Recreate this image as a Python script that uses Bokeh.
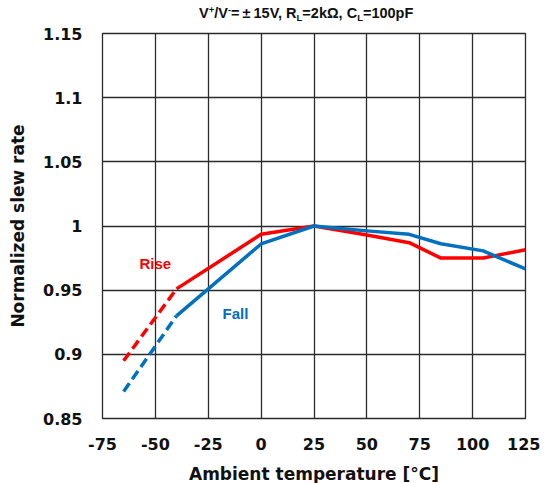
from bokeh.plotting import figure
from bokeh.models import Range1d, FixedTicker, CustomJSTickFormatter, Label, Div
from bokeh.layouts import column
from bokeh.embed import file_html
from bokeh.resources import INLINE

# ---- data ----
temp_dash = [-65, -40]
rise_dash = [0.895, 0.951]
fall_dash = [0.871, 0.930]

temp = [-40, 0, 25, 50, 70, 85, 105, 125]
rise = [0.951, 0.9935, 1.0, 0.993, 0.987, 0.975, 0.975, 0.9815]
fall = [0.930, 0.986, 1.0, 0.9962, 0.9935, 0.9862, 0.9806, 0.9665]

x_ticks = [-75, -50, -25, 0, 25, 50, 75, 100, 125]
y_ticks = [0.85, 0.9, 0.95, 1.0, 1.05, 1.1, 1.15]

RED = "#FF0000"
BLUE = "#0070C0"
GRID = "#2b2b2b"

X0, X1 = -75, 125
Y0, Y1 = 0.85, 1.15
FW, FH = 423, 385
TITLE_H = 24
BL, BT = 102, 9
FL, FT = BL, TITLE_H + BT  # page position of the frame

title = Div(
    text=('<div style="position:absolute; left:199px; top:6px; white-space:nowrap; '
          'font-family:\'Liberation Sans\', Arial, sans-serif; font-weight:bold; '
          'font-size:14.5px; line-height:14px; color:#111;">'
          'V<span style="font-size:9.5px; position:relative; top:-5px;">+</span>'
          '/V<span style="font-size:9.5px; position:relative; top:-5px;">-</span>'
          '=<span style="margin:0 3px;">±</span>15V, '
          'R<span style="font-size:9.5px; position:relative; top:3px;">L</span>=2kΩ, '
          'C<span style="font-size:9.5px; position:relative; top:3px;">L</span>=100pF'
          '</div>'),
    width=540, height=TITLE_H, margin=(0, 0, 0, 0))

p = figure(width=BL + FW + 15, height=BT + FH + 62,
           frame_width=FW, frame_height=FH,
           min_border_left=BL, min_border_top=BT, min_border_right=15, min_border_bottom=62,
           x_range=Range1d(X0, X1), y_range=Range1d(Y0, Y1),
           output_backend="svg", toolbar_location=None, tools="", margin=(0, 0, 0, 0))

p.background_fill_color = "white"
p.border_fill_color = "white"
p.outline_line_color = GRID
p.outline_line_width = 1.3

for ax in (p.xaxis, p.yaxis):
    ax.axis_line_color = None
    ax.major_tick_line_color = None
    ax.minor_tick_line_color = None
    ax.major_tick_in = 0
    ax.major_tick_out = 0
    ax.minor_tick_out = 0
    ax.major_label_text_font = "DejaVu Sans"
    ax.major_label_text_font_style = "bold"
    ax.major_label_text_font_size = "16px"
    ax.major_label_text_color = "#111111"
    ax.axis_label_text_font = "DejaVu Sans"
    ax.axis_label_text_font_style = "bold"
    ax.axis_label_text_font_size = "17px"
    ax.axis_label_text_color = "#111111"

p.xaxis.ticker = FixedTicker(ticks=x_ticks)
p.yaxis.ticker = FixedTicker(ticks=y_ticks)
p.xaxis.formatter = CustomJSTickFormatter(code="return String(tick);")
p.yaxis.formatter = CustomJSTickFormatter(code="return String(Math.round(tick*100)/100);")
p.xaxis.major_label_standoff = 19
p.yaxis.major_label_standoff = 20
p.xaxis.axis_label = "Ambient temperature [°C]"
p.yaxis.axis_label = "Normalized slew rate"
p.xaxis.axis_label_standoff = 11
p.yaxis.axis_label_standoff = 12

p.xgrid.ticker = FixedTicker(ticks=x_ticks)
p.ygrid.ticker = FixedTicker(ticks=y_ticks)
for g in (p.xgrid, p.ygrid):
    g.grid_line_color = GRID
    g.grid_line_width = 1.3

# curves
p.line(temp_dash, rise_dash, line_color=RED, line_width=3.5, line_dash="10 5")
p.line(temp_dash, fall_dash, line_color=BLUE, line_width=3.5, line_dash="10 5")
p.line(temp, rise, line_color=RED, line_width=3.5, line_join="round")
p.line(temp, fall, line_color=BLUE, line_width=3.5, line_join="round")


def dx(px):
    """page pixel x -> data x"""
    return X0 + (px - FL) / FW * (X1 - X0)


def dy(py):
    """page pixel y -> data y"""
    return Y1 - (py - FT) / FH * (Y1 - Y0)


p.add_layout(Label(x=dx(139), y=dy(263), text="Rise", text_color=RED,
                   text_font="Liberation Sans", text_font_style="bold",
                   text_font_size="15px", text_baseline="middle"))
p.add_layout(Label(x=dx(222), y=dy(313), text="Fall", text_color=BLUE,
                   text_font="Liberation Sans", text_font_style="bold",
                   text_font_size="15px", text_baseline="middle"))

layout = column(title, p, spacing=0, margin=(0, 0, 0, 0))
open("out.html", "w").write(file_html(layout, INLINE))
